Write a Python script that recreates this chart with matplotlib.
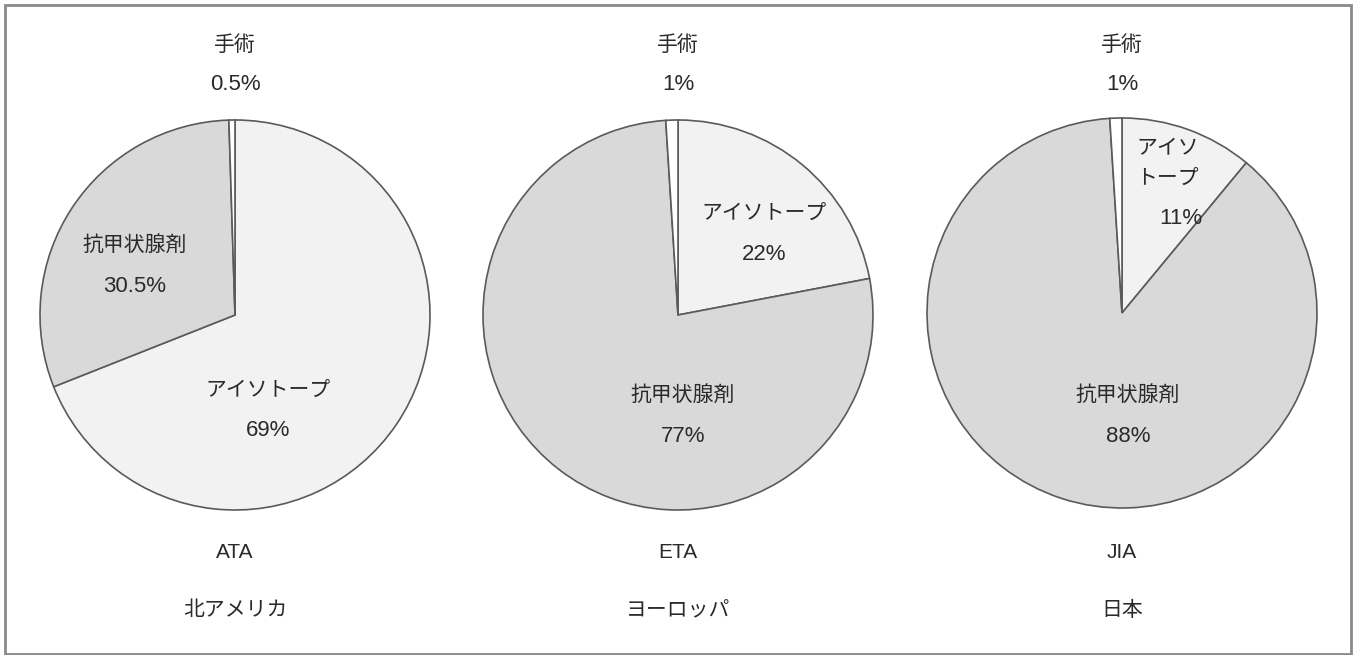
import matplotlib.pyplot as plt
from matplotlib.patches import Rectangle

plt.rcParams['font.family'] = ['Noto Sans CJK JP', 'DejaVu Sans']

W, H = 1353, 655

# data
studies = ['ATA', 'ETA', 'JIA']
regions = ['北アメリカ', 'ヨーロッパ', '日本']
segments = ['アイソトープ', '抗甲状腺剤', '手術']
isotope = [69, 22, 11]
antithyroid = [30.5, 77, 88]
surgery = [0.5, 1, 1]

colors = ['#f2f2f2', '#d9d9d9', '#ffffff']
text_color = '#2a2a2a'
latin = ['Liberation Sans', 'Noto Sans CJK JP']

# layout, pixel coords (x, y from top)
centers = [(235, 315), (678, 315), (1122, 313)]
radius = 195
# label offsets relative to pie center: (isotope label, antithyroid label)
iso_pos = [(33, 75), (86, -102), (14, -150)]
anti_pos = [(-100, -70), (5, 80), (6, 82)]
iso_names = ['アイソトープ', 'アイソトープ', 'アイソ\nトープ']


def py(y):
    return H - y


def jp(x, y, s, **kw):
    ax.text(x, py(y), s, va='center', fontsize=15, color=text_color, **kw)


def num(x, y, v):
    ax.text(x, py(y), f'{v:g}%', ha='center', va='center', fontsize=16,
            color=text_color, family=latin)


fig = plt.figure(figsize=(W / 100, H / 100), dpi=100)
ax = fig.add_axes([0, 0, 1, 1])

for i, (cx, cy) in enumerate(centers):
    vals = [isotope[i], antithyroid[i], surgery[i]]
    ax.pie(vals, colors=colors, startangle=90, counterclock=False,
           center=(cx, py(cy)), radius=radius, frame=True,
           wedgeprops=dict(edgecolor='#5a5a5a', linewidth=1.2))

    # surgery label above the pie
    jp(cx, 45, segments[2], ha='center')
    num(cx, 84, surgery[i])

    # isotope label
    dx, dy = iso_pos[i]
    if '\n' in iso_names[i]:
        jp(cx + dx, cy + dy, iso_names[i], ha='left', linespacing=1.45)
        num(cx + 59, cy + dy + 55, isotope[i])
    else:
        jp(cx + dx, cy + dy, iso_names[i], ha='center')
        num(cx + dx, cy + dy + 41, isotope[i])

    # antithyroid label
    dx, dy = anti_pos[i]
    jp(cx + dx, cy + dy, segments[1], ha='center')
    num(cx + dx, cy + dy + 42, antithyroid[i])

    # study and region below
    ax.text(cx, py(553), studies[i], ha='center', va='center', fontsize=15,
            color=text_color, family=latin)
    jp(cx, 610, regions[i], ha='center')

ax.add_patch(Rectangle((5, py(654)), 1346, 649, fill=False, edgecolor='#8a8a8a', linewidth=2))

ax.set_xlim(0, W)
ax.set_ylim(0, H)
ax.set_aspect('equal')
ax.axis('off')

fig.savefig('out.png', dpi=100)
